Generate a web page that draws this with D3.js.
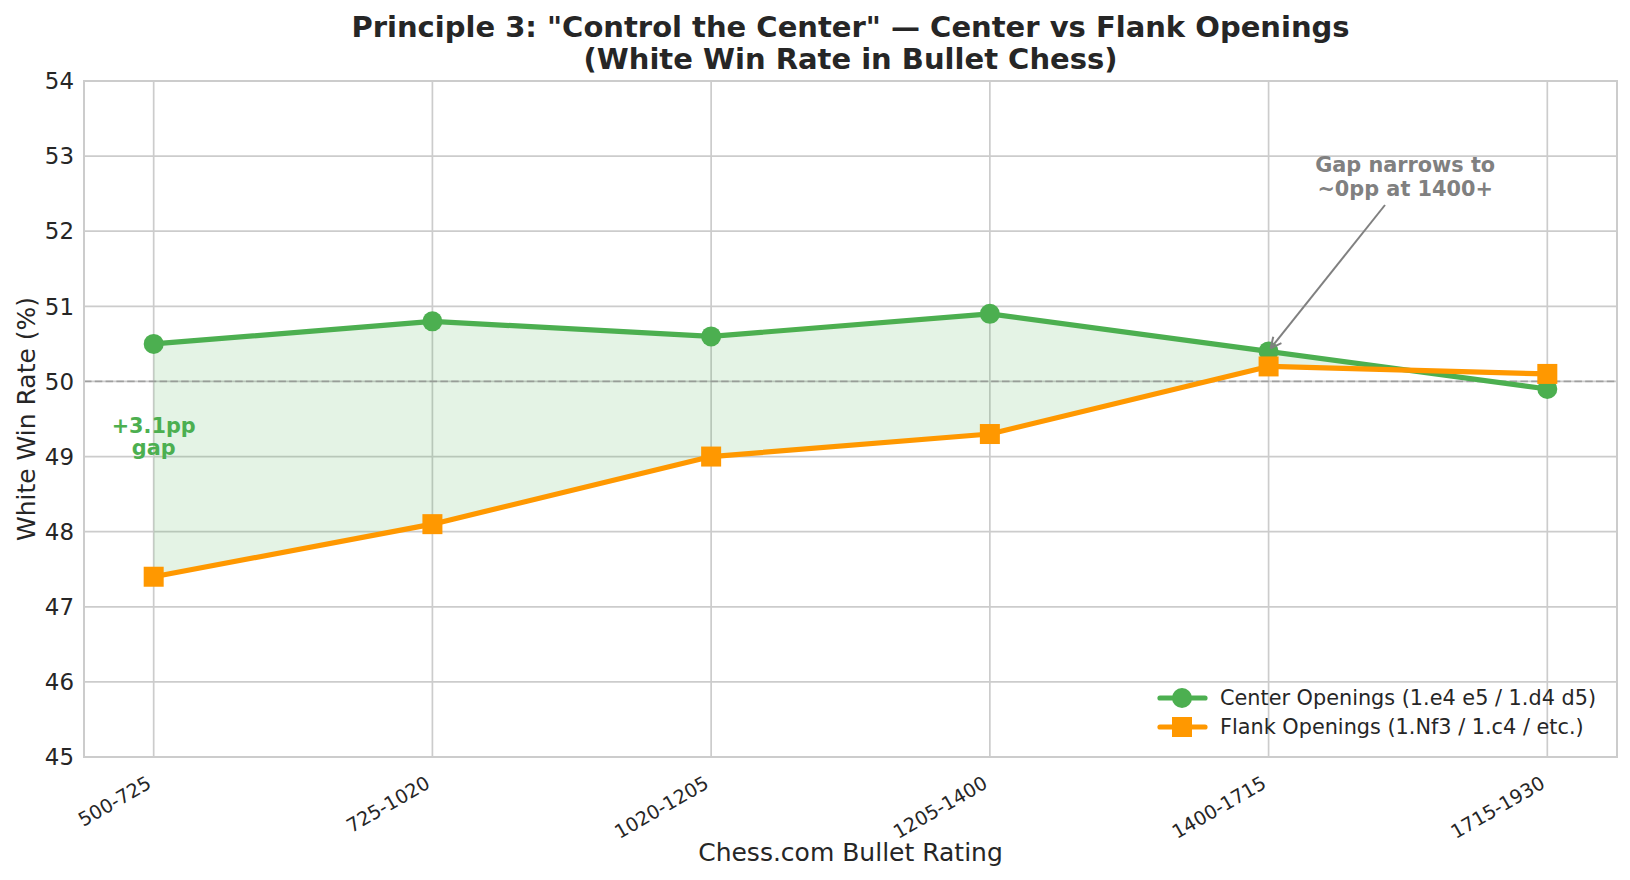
<!DOCTYPE html>
<html>
<head>
<meta charset="utf-8">
<script src="https://cdn.jsdelivr.net/npm/d3@7"></script>
<style>
  body { margin: 0; background: #fff; }
  svg text { font-family: "DejaVu Sans", sans-serif; fill: #262626; }
</style>
</head>
<body>
<svg id="chart" width="1630" height="880"></svg>
<script>
// rating bands and white win rates
const ratingBands = ["500-725", "725-1020", "1020-1205", "1205-1400", "1400-1715", "1715-1930"];
const centerRates = [50.5, 50.8, 50.6, 50.9, 50.4, 49.9];
const flankRates = [47.4, 48.1, 49.0, 49.3, 50.2, 50.1];
const yTicks = [45, 46, 47, 48, 49, 50, 51, 52, 53, 54];
const seriesNames = ["Center Openings (1.e4 e5 / 1.d4 d5)", "Flank Openings (1.Nf3 / 1.c4 / etc.)"];

const green = "#4CAF50", orange = "#FF9800", gridC = "#cccccc";
const W = 1630, H = 880;
const m = {left: 84, right: 13, top: 81, bottom: 123};

const svg = d3.select("#chart");
const x = d3.scaleLinear().domain([-0.25, ratingBands.length - 0.75]).range([m.left, W - m.right]);
const y = d3.scaleLinear().domain([45, 54]).range([H - m.bottom, m.top]);

// grid
const g = svg.append("g");
g.selectAll("line.hg").data(yTicks).enter().append("line")
    .attr("x1", m.left).attr("x2", W - m.right)
    .attr("y1", d => y(d)).attr("y2", d => y(d))
    .attr("stroke", gridC).attr("stroke-width", 1.7);
g.selectAll("line.vg").data(ratingBands).enter().append("line")
    .attr("x1", (d, i) => x(i)).attr("x2", (d, i) => x(i))
    .attr("y1", m.top).attr("y2", H - m.bottom)
    .attr("stroke", gridC).attr("stroke-width", 1.7);

// fill where center > flank, interpolated to the crossing
let upper = [], lower = [];
for (let i = 0; i < ratingBands.length; i++) {
    const d = centerRates[i] - flankRates[i];
    if (d >= 0) { upper.push([i, centerRates[i]]); lower.push([i, flankRates[i]]); }
    if (i < ratingBands.length - 1) {
        const d2 = centerRates[i + 1] - flankRates[i + 1];
        if (d > 0 && d2 < 0) {
            const t = d / (d - d2);
            const v = centerRates[i] + t * (centerRates[i + 1] - centerRates[i]);
            upper.push([i + t, v]); lower.push([i + t, v]);
        }
    }
}
const poly = upper.concat(lower.reverse());
svg.append("path")
    .attr("d", d3.line().x(d => x(d[0])).y(d => y(d[1]))(poly) + "Z")
    .attr("fill", green).attr("fill-opacity", 0.15);

// 50% reference
svg.append("line")
    .attr("x1", m.left).attr("x2", W - m.right).attr("y1", y(50)).attr("y2", y(50))
    .attr("stroke", "gray").attr("stroke-opacity", 0.6).attr("stroke-width", 1.8)
    .attr("stroke-dasharray", "7.5,3.3");

// spines
svg.append("rect").attr("x", m.left).attr("y", m.top)
    .attr("width", W - m.left - m.right).attr("height", H - m.top - m.bottom)
    .attr("fill", "none").attr("stroke", gridC).attr("stroke-width", 2);

const line = d3.line().x((d, i) => x(i)).y(d => y(d));
svg.append("path").attr("d", line(centerRates)).attr("fill", "none")
    .attr("stroke", green).attr("stroke-width", 5.2).attr("stroke-linejoin", "round");
svg.selectAll("circle.c").data(centerRates).enter().append("circle")
    .attr("cx", (d, i) => x(i)).attr("cy", d => y(d)).attr("r", 10).attr("fill", green);
svg.append("path").attr("d", line(flankRates)).attr("fill", "none")
    .attr("stroke", orange).attr("stroke-width", 5.2).attr("stroke-linejoin", "round");
svg.selectAll("rect.f").data(flankRates).enter().append("rect")
    .attr("x", (d, i) => x(i) - 10).attr("y", d => y(d) - 10)
    .attr("width", 20).attr("height", 20).attr("fill", orange);

// y ticks
svg.selectAll("text.yt").data(yTicks).enter().append("text")
    .attr("x", m.left - 10).attr("y", d => y(d)).attr("dy", "0.36em")
    .attr("text-anchor", "end").attr("font-size", 22.9).text(d => d);
// x ticks
svg.selectAll("text.xt").data(ratingBands).enter().append("text")
    .attr("transform", (d, i) => `translate(${x(i) - 1},${H - m.bottom + 30}) rotate(-30)`)
    .attr("text-anchor", "end").attr("font-size", 19.2).text(d => d);

// axis labels
svg.append("text").attr("x", (m.left + W - m.right) / 2).attr("y", 861)
    .attr("text-anchor", "middle").attr("font-size", 25).text("Chess.com Bullet Rating");
svg.append("text").attr("transform", `translate(35,${(m.top + H - m.bottom) / 2}) rotate(-90)`)
    .attr("text-anchor", "middle").attr("font-size", 25).text("White Win Rate (%)");

// title
const title = svg.append("text").attr("text-anchor", "middle").attr("font-size", 29).attr("font-weight", "bold");
title.append("tspan").attr("x", (m.left + W - m.right) / 2).attr("y", 37)
    .text('Principle 3: "Control the Center" \u2014 Center vs Flank Openings');
title.append("tspan").attr("x", (m.left + W - m.right) / 2).attr("y", 69)
    .text("(White Win Rate in Bullet Chess)");

// gap label
const gl = svg.append("text").attr("text-anchor", "middle").attr("font-size", 20.8)
    .attr("font-weight", "bold").style("fill", green);
gl.append("tspan").attr("x", x(0)).attr("y", y(49.25) - 5).text("+3.1pp");
gl.append("tspan").attr("x", x(0)).attr("y", y(49.25) + 17).text("gap");

// annotation with arrow
const ax = x(4.49), ay = y(52.72);
const an = svg.append("text").attr("text-anchor", "middle").attr("font-size", 20.8)
    .attr("font-weight", "bold").style("fill", "gray");
an.append("tspan").attr("x", ax).attr("y", ay - 5).text("Gap narrows to");
an.append("tspan").attr("x", ax).attr("y", ay + 18.5).text("~0pp at 1400+");
const x0 = 1385, y0 = 205, x1 = x(4) + 2, y1 = y(centerRates[4]) - 3;
svg.append("line").attr("x1", x0).attr("y1", y0).attr("x2", x1).attr("y2", y1)
    .attr("stroke", "gray").attr("stroke-width", 2);
const ang = Math.atan2(y1 - y0, x1 - x0);
const hl = 12;
[0.45, -0.45].forEach(a => {
    svg.append("line").attr("x1", x1).attr("y1", y1)
        .attr("x2", x1 - hl * Math.cos(ang + a)).attr("y2", y1 - hl * Math.sin(ang + a))
        .attr("stroke", "gray").attr("stroke-width", 2);
});

// legend
const lg = svg.append("g");
const colors = [green, orange];
seriesNames.forEach((name, i) => {
    const ly = 698 + i * 29;
    lg.append("line").attr("x1", 1160).attr("x2", 1205).attr("y1", ly).attr("y2", ly)
        .attr("stroke", colors[i]).attr("stroke-width", 5.2).attr("stroke-linecap", "round");
    if (i === 0) lg.append("circle").attr("cx", 1182).attr("cy", ly).attr("r", 10).attr("fill", green);
    else lg.append("rect").attr("x", 1172).attr("y", ly - 10).attr("width", 20).attr("height", 20).attr("fill", orange);
    lg.append("text").attr("x", 1220).attr("y", ly).attr("dy", "0.36em")
        .attr("font-size", 20.8).text(name);
});
</script>
</body>
</html>
